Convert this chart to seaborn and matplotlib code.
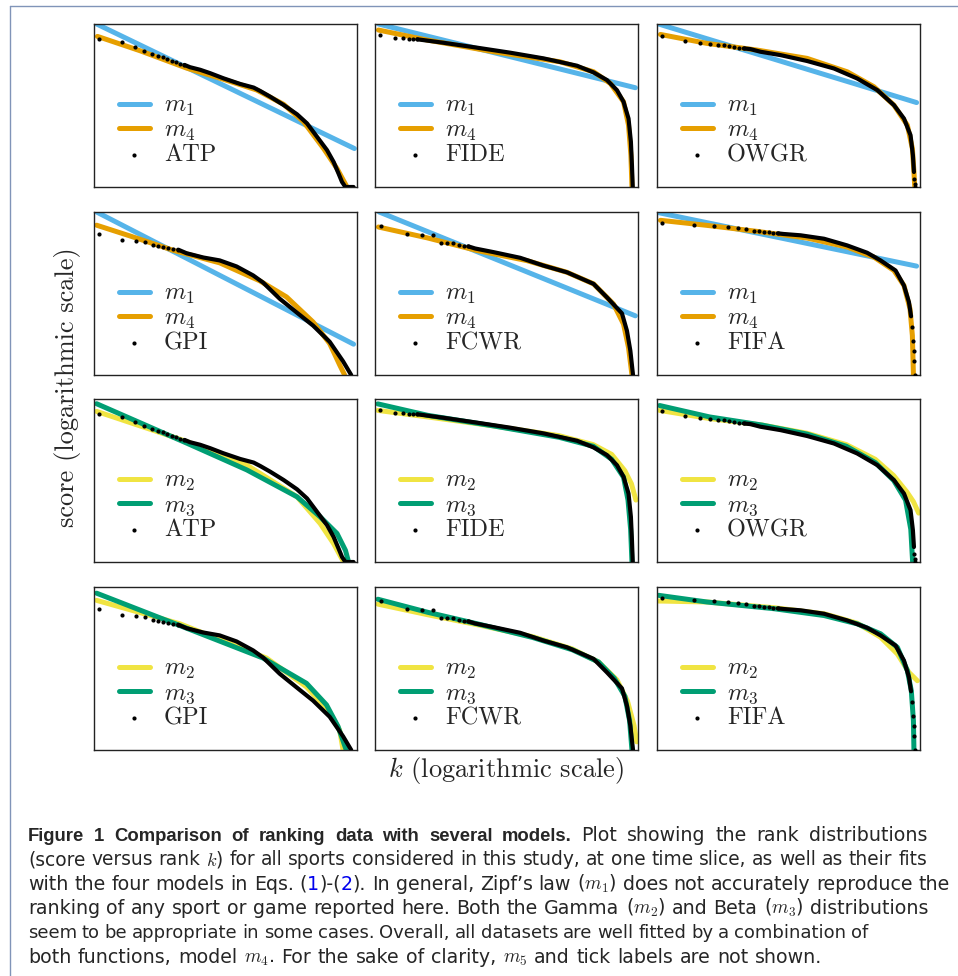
import matplotlib
matplotlib.use("Agg")
import matplotlib.pyplot as plt
import seaborn as sns
from matplotlib.lines import Line2D
from matplotlib import font_manager

sns.set_style("white")
plt.rcParams["mathtext.fontset"] = "cm"
plt.rcParams["font.family"] = ["DejaVu Serif"]
plt.rcParams["axes.formatter.use_mathtext"] = True

# values: x = log rank, y = log score, both rescaled to the panel box

# ATP
atp_dot_x = [0.019, 0.105, 0.156, 0.190, 0.220, 0.245, 0.261, 0.279, 0.296, 0.312, 0.327, 0.344]
atp_dot_y = [0.910, 0.889, 0.856, 0.836, 0.815, 0.801, 0.795, 0.786, 0.776, 0.766, 0.756, 0.749]
atp_line_x = [0.344, 0.365, 0.404, 0.442, 0.492, 0.556, 0.607, 0.632, 0.670, 0.721, 0.772, 0.810,
              0.848, 0.886, 0.911, 0.930, 0.943, 0.956, 0.987]
atp_line_y = [0.749, 0.735, 0.719, 0.698, 0.667, 0.632, 0.610, 0.589, 0.554, 0.503, 0.446, 0.390,
              0.308, 0.226, 0.154, 0.082, 0.031, 0.0, 0.0]
atp_m1_x = [0.010, 0.990]
atp_m1_y = [1.000, 0.236]
atp_m4_x = [0.013, 0.175, 0.353, 0.492, 0.619, 0.721, 0.797, 0.873, 0.924, 0.962, 0.981]
atp_m4_y = [0.924, 0.836, 0.729, 0.661, 0.595, 0.507, 0.400, 0.236, 0.113, 0.0, -0.06]
atp_m2_x = [0.010, 0.353, 0.581, 0.772, 0.860, 0.911, 0.949, 0.960]
atp_m2_y = [0.924, 0.739, 0.595, 0.400, 0.236, 0.113, 0.0, -0.05]
atp_m3_x = [0.010, 0.353, 0.581, 0.772, 0.860, 0.924, 0.956, 0.968, 0.975]
atp_m3_y = [0.971, 0.729, 0.565, 0.400, 0.277, 0.175, 0.072, 0.0, -0.06]

# FIDE
fide_dot_x = [0.019, 0.076, 0.108, 0.129, 0.146, 0.161]
fide_dot_y = [0.932, 0.916, 0.912, 0.910, 0.908, 0.906]
fide_line_x = [0.161, 0.171, 0.260, 0.387, 0.514, 0.641, 0.768, 0.831, 0.882, 0.920, 0.945, 0.964,
               0.973, 0.977, 0.980]
fide_line_y = [0.906, 0.904, 0.885, 0.855, 0.824, 0.789, 0.744, 0.703, 0.656, 0.594, 0.523, 0.420,
               0.277, 0.133, 0.0]
fide_m1_x = [0.013, 0.990]
fide_m1_y = [1.000, 0.609]
fide_m4_x = [0.013, 0.197, 0.450, 0.704, 0.831, 0.895, 0.945, 0.964, 0.973, 0.977, 0.979]
fide_m4_y = [0.963, 0.902, 0.830, 0.768, 0.707, 0.635, 0.523, 0.379, 0.195, 0.0, -0.06]
fide_m2_x = [0.011, 0.200, 0.450, 0.700, 0.830, 0.900, 0.950, 0.975, 0.992]
fide_m2_y = [0.930, 0.890, 0.835, 0.775, 0.720, 0.660, 0.560, 0.480, 0.380]
fide_m3_x = [0.011, 0.200, 0.450, 0.700, 0.830, 0.900, 0.945, 0.962, 0.972, 0.977, 0.980]
fide_m3_y = [0.970, 0.900, 0.835, 0.765, 0.710, 0.630, 0.520, 0.380, 0.200, 0.0, -0.1]

# OWGR
owgr_dot_x = [0.019, 0.108, 0.162, 0.201, 0.231, 0.254, 0.273, 0.292, 0.311, 0.330, 0.978, 0.980, 0.980]
owgr_dot_y = [0.928, 0.895, 0.883, 0.875, 0.871, 0.869, 0.865, 0.861, 0.855, 0.850, 0.051, 0.020, 0.0]
owgr_line_x = [0.330, 0.355, 0.393, 0.470, 0.571, 0.673, 0.761, 0.838, 0.901, 0.939, 0.964, 0.973, 0.977]
owgr_line_y = [0.850, 0.846, 0.830, 0.809, 0.773, 0.727, 0.666, 0.594, 0.502, 0.420, 0.318, 0.195, 0.092]
owgr_m1_x = [0.006, 0.987]
owgr_m1_y = [1.000, 0.518]
owgr_m4_x = [0.013, 0.190, 0.381, 0.571, 0.723, 0.825, 0.901, 0.952, 0.971, 0.977, 0.980]
owgr_m4_y = [0.936, 0.881, 0.840, 0.789, 0.707, 0.615, 0.502, 0.379, 0.236, 0.092, 0.0]
owgr_m2_x = [0.010, 0.200, 0.400, 0.570, 0.720, 0.830, 0.900, 0.950, 0.975, 0.995]
owgr_m2_y = [0.930, 0.880, 0.840, 0.790, 0.720, 0.630, 0.530, 0.430, 0.370, 0.300]
owgr_m3_x = [0.010, 0.200, 0.400, 0.570, 0.720, 0.830, 0.900, 0.945, 0.965, 0.972, 0.975]
owgr_m3_y = [0.960, 0.890, 0.840, 0.785, 0.710, 0.610, 0.500, 0.380, 0.200, 0.0, -0.1]

# GPI
gpi_dot_x = [0.019, 0.108, 0.159, 0.194, 0.223, 0.244, 0.263, 0.282, 0.301, 0.320]
gpi_dot_y = [0.868, 0.831, 0.824, 0.813, 0.800, 0.791, 0.785, 0.782, 0.776, 0.769]
gpi_line_x = [0.320, 0.352, 0.415, 0.478, 0.542, 0.605, 0.643, 0.706, 0.782, 0.833, 0.896, 0.947, 0.978]
gpi_line_y = [0.769, 0.747, 0.721, 0.703, 0.666, 0.611, 0.567, 0.468, 0.369, 0.303, 0.204, 0.084, 0.0]
gpi_m1_x = [0.010, 0.987]
gpi_m1_y = [1.000, 0.189]
gpi_m4_x = [0.010, 0.137, 0.301, 0.478, 0.630, 0.732, 0.833, 0.896, 0.934, 0.953]
gpi_m4_y = [0.919, 0.853, 0.765, 0.688, 0.578, 0.479, 0.325, 0.193, 0.062, 0.0]
gpi_m2_x = [0.010, 0.327, 0.656, 0.808, 0.896, 0.934, 0.947, 0.952]
gpi_m2_y = [0.918, 0.774, 0.564, 0.387, 0.232, 0.122, 0.0, -0.04]
gpi_m3_x = [0.010, 0.327, 0.643, 0.808, 0.884, 0.928, 0.959, 0.965]
gpi_m3_y = [0.962, 0.763, 0.564, 0.409, 0.277, 0.144, 0.0, -0.05]

# FCWR
fcwr_dot_x = [0.022, 0.121, 0.178, 0.220, 0.250, 0.275, 0.298, 0.321, 0.339, 0.355]
fcwr_dot_y = [0.914, 0.862, 0.860, 0.858, 0.811, 0.809, 0.807, 0.799, 0.793, 0.789]
fcwr_line_x = [0.355, 0.381, 0.450, 0.552, 0.641, 0.730, 0.831, 0.882, 0.939, 0.958, 0.971, 0.981]
fcwr_line_y = [0.789, 0.776, 0.754, 0.719, 0.671, 0.630, 0.559, 0.476, 0.378, 0.271, 0.148, 0.0]
fcwr_m1_x = [0.016, 0.990]
fcwr_m1_y = [1.000, 0.363]
fcwr_m4_x = [0.013, 0.197, 0.387, 0.577, 0.730, 0.831, 0.907, 0.945, 0.964, 0.977, 0.980]
fcwr_m4_y = [0.908, 0.842, 0.764, 0.702, 0.630, 0.559, 0.435, 0.312, 0.168, 0.0, -0.05]
fcwr_m2_x = [0.011, 0.200, 0.400, 0.600, 0.750, 0.850, 0.920, 0.960, 0.985, 0.995]
fcwr_m2_y = [0.895, 0.830, 0.765, 0.695, 0.620, 0.540, 0.430, 0.300, 0.150, 0.050]
fcwr_m3_x = [0.011, 0.200, 0.400, 0.600, 0.750, 0.850, 0.910, 0.950, 0.968, 0.977, 0.980]
fcwr_m3_y = [0.925, 0.845, 0.770, 0.690, 0.615, 0.540, 0.440, 0.330, 0.180, 0.0, -0.1]

# FIFA
fifa_dot_x = [0.019, 0.142, 0.216, 0.269, 0.308, 0.340, 0.368, 0.387, 0.406, 0.425, 0.442, 0.459,
              0.971, 0.975, 0.977, 0.977, 0.980]
fifa_dot_y = [0.934, 0.918, 0.912, 0.908, 0.904, 0.898, 0.881, 0.881, 0.879, 0.875, 0.873, 0.869,
              0.293, 0.211, 0.150, 0.088, 0.0]
fifa_line_x = [0.459, 0.482, 0.546, 0.635, 0.723, 0.799, 0.850, 0.907, 0.939, 0.958, 0.966]
fifa_line_y = [0.869, 0.865, 0.857, 0.836, 0.795, 0.750, 0.703, 0.641, 0.549, 0.447, 0.360]
fifa_m1_x = [0.006, 0.987]
fifa_m1_y = [0.996, 0.668]
fifa_m4_x = [0.013, 0.190, 0.381, 0.571, 0.723, 0.825, 0.901, 0.939, 0.962, 0.971, 0.975, 0.977]
fifa_m4_y = [0.949, 0.918, 0.881, 0.840, 0.785, 0.723, 0.641, 0.549, 0.406, 0.242, 0.0, -0.05]
fifa_m2_x = [0.006, 0.190, 0.444, 0.635, 0.761, 0.850, 0.914, 0.958, 0.990]
fifa_m2_y = [0.914, 0.908, 0.873, 0.836, 0.778, 0.692, 0.589, 0.476, 0.425]
fifa_m3_x = [0.006, 0.190, 0.444, 0.635, 0.761, 0.850, 0.914, 0.952, 0.967, 0.975, 0.977, 0.978]
fifa_m3_y = [0.949, 0.908, 0.867, 0.825, 0.774, 0.713, 0.630, 0.487, 0.363, 0.179, 0.0, -0.05]

sports = {
    "ATP": (atp_dot_x, atp_dot_y, atp_line_x, atp_line_y,
            {"m1": (atp_m1_x, atp_m1_y), "m4": (atp_m4_x, atp_m4_y),
             "m2": (atp_m2_x, atp_m2_y), "m3": (atp_m3_x, atp_m3_y)}),
    "FIDE": (fide_dot_x, fide_dot_y, fide_line_x, fide_line_y,
             {"m1": (fide_m1_x, fide_m1_y), "m4": (fide_m4_x, fide_m4_y),
              "m2": (fide_m2_x, fide_m2_y), "m3": (fide_m3_x, fide_m3_y)}),
    "OWGR": (owgr_dot_x, owgr_dot_y, owgr_line_x, owgr_line_y,
             {"m1": (owgr_m1_x, owgr_m1_y), "m4": (owgr_m4_x, owgr_m4_y),
              "m2": (owgr_m2_x, owgr_m2_y), "m3": (owgr_m3_x, owgr_m3_y)}),
    "GPI": (gpi_dot_x, gpi_dot_y, gpi_line_x, gpi_line_y,
            {"m1": (gpi_m1_x, gpi_m1_y), "m4": (gpi_m4_x, gpi_m4_y),
             "m2": (gpi_m2_x, gpi_m2_y), "m3": (gpi_m3_x, gpi_m3_y)}),
    "FCWR": (fcwr_dot_x, fcwr_dot_y, fcwr_line_x, fcwr_line_y,
             {"m1": (fcwr_m1_x, fcwr_m1_y), "m4": (fcwr_m4_x, fcwr_m4_y),
              "m2": (fcwr_m2_x, fcwr_m2_y), "m3": (fcwr_m3_x, fcwr_m3_y)}),
    "FIFA": (fifa_dot_x, fifa_dot_y, fifa_line_x, fifa_line_y,
             {"m1": (fifa_m1_x, fifa_m1_y), "m4": (fifa_m4_x, fifa_m4_y),
              "m2": (fifa_m2_x, fifa_m2_y), "m3": (fifa_m3_x, fifa_m3_y)}),
}

grid_rows = [["ATP", "FIDE", "OWGR"], ["GPI", "FCWR", "FIFA"],
             ["ATP", "FIDE", "OWGR"], ["GPI", "FCWR", "FIFA"]]
row_models = [["m1", "m4"], ["m1", "m4"], ["m2", "m3"], ["m2", "m3"]]
model_colors = {"m1": "#56B4E9", "m4": "#E69F00", "m2": "#F0E442", "m3": "#009E73"}
model_labels = {"m1": "$m_1$", "m2": "$m_2$", "m3": "$m_3$", "m4": "$m_4$"}

W, H = 958, 976
fig = plt.figure(figsize=(W / 100, H / 100), dpi=100)

col_left = [94, 375, 657]
row_top = [24, 212, 399, 587]
pw, ph = 263, 163

for r in range(4):
    for c in range(3):
        name = grid_rows[r][c]
        dx, dy, lx, ly, models = sports[name]
        ax = fig.add_axes([col_left[c] / W, 1 - (row_top[r] + ph) / H, pw / W, ph / H])
        for m in row_models[r]:
            mx, my = models[m]
            sns.lineplot(x=mx, y=my, ax=ax, color=model_colors[m], lw=3.6, sort=False,
                         estimator=None, label=model_labels[m], zorder=2)
        sns.lineplot(x=lx, y=ly, ax=ax, color="black", lw=3.0, sort=False, estimator=None,
                     zorder=3)
        sns.scatterplot(x=dx, y=dy, ax=ax, color="black", s=9, linewidth=0, label=name,
                        zorder=4)
        ax.set_xlim(0, 1)
        ax.set_ylim(0, 1)
        ax.set_xticks([])
        ax.set_yticks([])
        for sp in ax.spines.values():
            sp.set_color("#222222")
            sp.set_linewidth(1.0)
        ax.legend(loc="upper left", bbox_to_anchor=(0.094, 0.565), borderpad=0,
                  borderaxespad=0, frameon=False, handlelength=1.28, handletextpad=0.58,
                  labelspacing=0.06, prop={"family": "cmr10", "size": 17.5})

fig.text(68 / W, 1 - 387 / H, "score (logarithmic scale)", rotation=90, ha="center",
         va="center", fontsize=19, family="cmr10")
fig.text(506 / W, 1 - 770 / H, "$k$ (logarithmic scale)", ha="center", va="center",
         fontsize=19, family="cmr10")

# page frame
fig.add_artist(Line2D([9.5 / W, 9.5 / W], [0, 1 - 5.8 / H], color="#8094b8", lw=1.0,
                      transform=fig.transFigure))
fig.add_artist(Line2D([9.5 / W, 1], [1 - 5.8 / H, 1 - 5.8 / H], color="#8094b8", lw=1.0,
                      transform=fig.transFigure))

# caption, set word by word so each line ends where the printed one does
names = {f.name for f in font_manager.fontManager.ttflist}
cap_font = "DejaVu Sans"
bold_font = "Liberation Sans Narrow" if "Liberation Sans Narrow" in names else "Liberation Sans"
renderer = fig.canvas.get_renderer()


def text_width(txt, **kw):
    t = fig.text(0, 0, txt, **kw)
    w = t.get_window_extent(renderer).width
    t.remove()
    return w


line2 = ("(score versus rank $k$) for all sports considered in this study, at one time "
         "slice, as well as their fits")
bold_txt = "Figure 1 Comparison of ranking data with several models."
cap_size = 14 * 898 / text_width(line2, fontsize=14, family=cap_font)
bold_size = 14 * 512 / text_width(bold_txt, fontsize=14, family=bold_font, weight="bold")
space_w = text_width("a a", fontsize=cap_size, family=cap_font) - \
    text_width("aa", fontsize=cap_size, family=cap_font)


def split_words(segments):
    words = [[]]
    for txt, kw in segments:
        for i, part in enumerate(txt.split(" ")):
            if i > 0:
                words.append([])
            if part:
                words[-1].append((part, kw))
    return [w for w in words if w]


def seg_opts(kw, scale):
    opts = {"fontsize": cap_size * scale, "family": cap_font}
    opts.update(kw)
    return opts


def caption_line(segments, base_px, end_px):
    y = 1 - base_px / H
    words = split_words(segments)
    n_gap = max(len(words) - 1, 1)
    fixed = sum(text_width(t, **seg_opts(kw, 1)) for w in words for t, kw in w if "fontsize" in kw)
    free = sum(text_width(t, **seg_opts(kw, 1)) for w in words for t, kw in w if "fontsize" not in kw)
    # part of the difference goes into the type size, the rest into the word spaces
    scale = (end_px - 28 - fixed - n_gap * space_w) / free
    scale = min(max(scale, 0.975), 1.03)
    seg_w = [[text_width(t, **seg_opts(kw, scale)) for t, kw in w] for w in words]
    total = sum(sum(ws) for ws in seg_w)
    gap = (end_px - 28 - total) / n_gap
    x = 28.0
    for w, ws in zip(words, seg_w):
        for (txt, kw), sw in zip(w, ws):
            fig.text(x / W, y, txt, ha="left", va="baseline", **seg_opts(kw, scale))
            x += sw
        x += gap


blue = {"color": "#0000ee"}
bold = {"weight": "bold", "family": bold_font, "fontsize": bold_size}
caption_line([(bold_txt, bold), (" Plot showing the rank distributions", {})], 841, 927)
caption_line([(line2, {})], 865, 927)
caption_line([("with the four models in Eqs. (", {}), ("1", blue), (")-(", {}), ("2", blue),
              ("). In general, Zipf\u2019s law ($m_1$) does not accurately reproduce the", {})],
             890, 950)
caption_line([("ranking of any sport or game reported here. Both the Gamma ($m_2$) and Beta "
               "($m_3$) distributions", {})], 914, 928)
caption_line([("seem to be appropriate in some cases. Overall, all datasets are well fitted by a "
               "combination of", {})], 938, 868)
caption_line([("both functions, model $m_4$. For the sake of clarity, $m_5$ and tick labels are "
               "not shown.", {})], 963, 822)

fig.savefig("out.png", dpi=100)
